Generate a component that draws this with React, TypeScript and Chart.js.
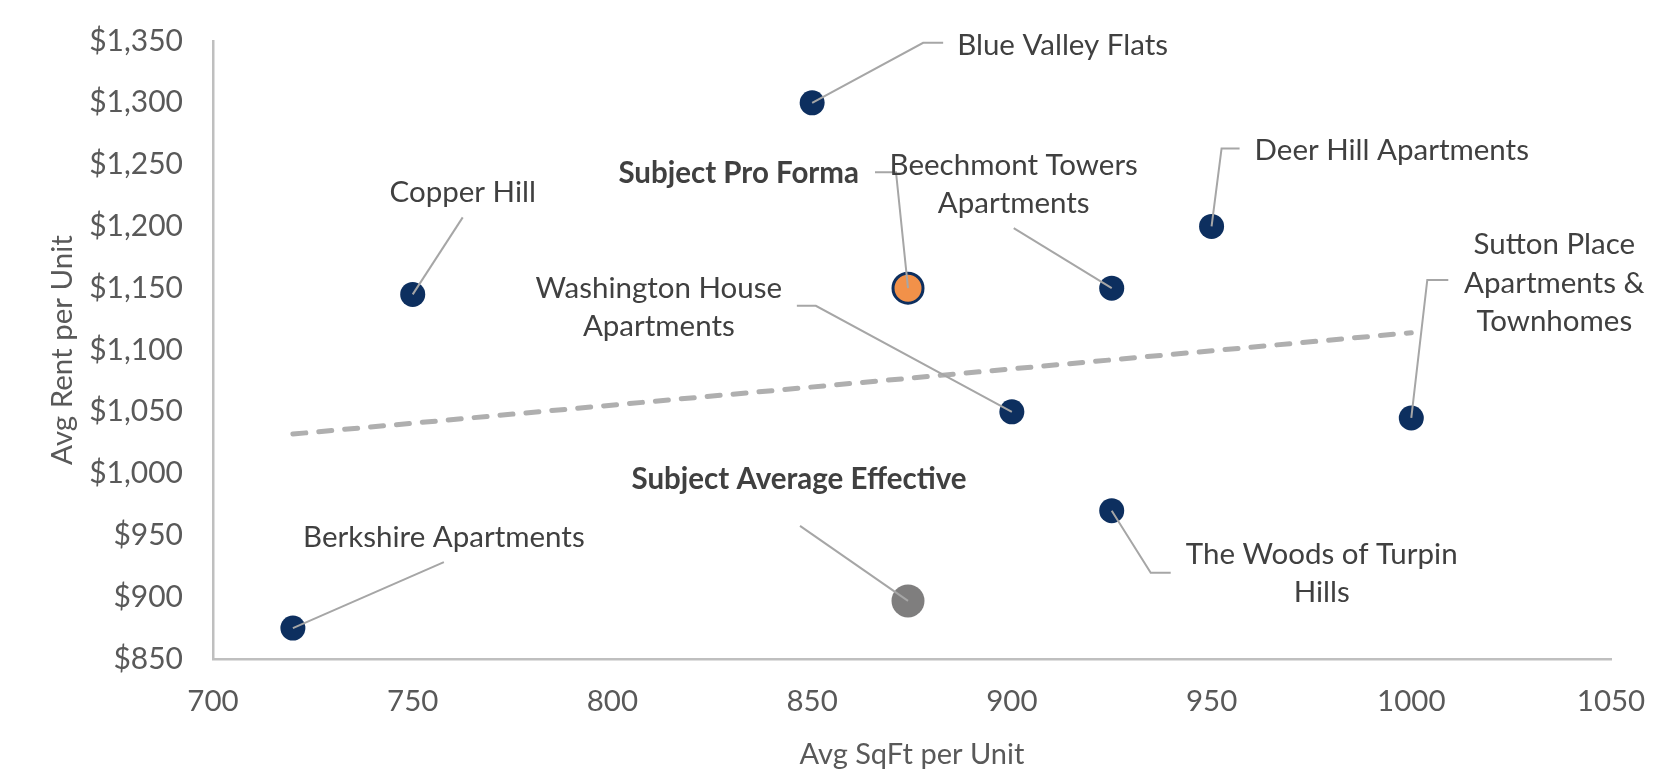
import React, { useEffect, useRef } from "react";
import { Chart, registerables } from "chart.js";

Chart.register(...registerables);

// ---------- data ----------
const compNames = [
  "Berkshire Apartments",
  "Copper Hill",
  "Blue Valley Flats",
  "Washington House Apartments",
  "Beechmont Towers Apartments",
  "The Woods of Turpin Hills",
  "Deer Hill Apartments",
  "Sutton Place Apartments & Townhomes",
];
const compSqft = [720, 750, 850, 900, 925, 925, 950, 1000];
const compRent = [875, 1145, 1300, 1050, 1150, 970, 1200, 1045];

const proFormaSqft = [874];
const proFormaRent = [1150];
const avgEffSqft = [874];
const avgEffRent = [897];

const trendSqft = [720, 1000];
const trendRent = [1032, 1114];

const xTicks = [700, 750, 800, 850, 900, 950, 1000, 1050];
const yTicks = [850, 900, 950, 1000, 1050, 1100, 1150, 1200, 1250, 1300, 1350];

// ---------- styling ----------
const FONT = "Lato";
const LABEL_SIZE = 29.5;
const NAVY = "#0D2F5F";
const ORANGE = "#F29149";
const GREY_PT = "#7F7E7E";
const TREND = "#AFAFAF";
const AXIS = "#BFBFBF";
const LEADER = "#A6A6A6";
const TEXT = "#404040";
const TICK = "#595959";

type Callout = {
  ds: number;
  idx: number;
  lines: string[];
  dx: number;
  dy: number;
  gap: number;
  align: CanvasTextAlign;
  bold?: boolean;
  leader: [number, number][];
};

// label placement, as pixel offsets from the marker
const callouts: Callout[] = [
  { ds: 0, idx: 0, lines: ["Berkshire Apartments"], dx: 151, dy: -91, gap: 0, align: "center", leader: [[151, -66], [0, 0]] },
  { ds: 0, idx: 1, lines: ["Copper Hill"], dx: 50, dy: -102, gap: 0, align: "center", leader: [[50, -77], [0, 0]] },
  { ds: 0, idx: 2, lines: ["Blue Valley Flats"], dx: 145, dy: -57, gap: 0, align: "left", leader: [[131, -60], [111, -60], [0, 0]] },
  { ds: 0, idx: 3, lines: ["Washington House", "Apartments"], dx: -353, dy: -123, gap: 38, align: "center", leader: [[-215, -106], [-196, -106], [0, 0]] },
  { ds: 0, idx: 4, lines: ["Beechmont Towers", "Apartments"], dx: -98, dy: -123, gap: 38, align: "center", leader: [[-98, -60], [0, 0]] },
  { ds: 0, idx: 5, lines: ["The Woods of Turpin", "Hills"], dx: 210, dy: 44, gap: 38, align: "center", leader: [[59, 62], [39, 62], [0, 0]] },
  { ds: 0, idx: 6, lines: ["Deer Hill Apartments"], dx: 43, dy: -76, gap: 0, align: "left", leader: [[28, -78], [10, -78], [0, 0]] },
  { ds: 0, idx: 7, lines: ["Sutton Place", "Apartments &", "Townhomes"], dx: 143, dy: -173, gap: 38.5, align: "center", leader: [[37, -138], [16, -138], [0, 0]] },
  { ds: 1, idx: 0, lines: ["Subject Pro Forma"], dx: -49, dy: -115, gap: 0, align: "right", bold: true, leader: [[-33, -116], [-12, -116], [0, 0]] },
  { ds: 2, idx: 0, lines: ["Subject Average Effective"], dx: -109, dy: -121, gap: 0, align: "center", bold: true, leader: [[-108, -75], [0, 0]] },
];

const calloutPlugin = {
  id: "calloutLabels",
  afterDatasetsDraw(chart: any) {
    const ctx: CanvasRenderingContext2D = chart.ctx;
    ctx.save();
    ctx.strokeStyle = LEADER;
    ctx.lineWidth = 2;
    ctx.lineJoin = "miter";
    for (const c of callouts) {
      const el = chart.getDatasetMeta(c.ds).data[c.idx];
      if (!el) continue;
      ctx.beginPath();
      c.leader.forEach(([dx, dy], i) => {
        if (i === 0) ctx.moveTo(el.x + dx, el.y + dy);
        else ctx.lineTo(el.x + dx, el.y + dy);
      });
      ctx.stroke();
    }
    ctx.fillStyle = TEXT;
    ctx.textBaseline = "middle";
    for (const c of callouts) {
      const el = chart.getDatasetMeta(c.ds).data[c.idx];
      if (!el) continue;
      ctx.font = `${c.bold ? "bold " : ""}${LABEL_SIZE}px ${FONT}`;
      ctx.textAlign = c.align;
      c.lines.forEach((line, i) => {
        ctx.fillText(line, el.x + c.dx, el.y + c.dy + i * c.gap);
      });
    }
    ctx.restore();
  },
};

const clearPad = (s: any) => {
  s.paddingTop = 0;
  s.paddingBottom = 0;
  s.paddingLeft = 0;
  s.paddingRight = 0;
};

export default function App() {
  const ref = useRef<HTMLCanvasElement>(null);

  useEffect(() => {
    const canvas = ref.current;
    if (!canvas) return;
    const chart = new Chart(canvas, {
      type: "scatter",
      data: {
        datasets: [
          {
            label: "Comparables",
            data: compSqft.map((x, i) => ({ x, y: compRent[i], name: compNames[i] })) as any,
            backgroundColor: NAVY,
            borderWidth: 0,
            pointRadius: 12.5,
          },
          {
            label: "Subject Pro Forma",
            data: proFormaSqft.map((x, i) => ({ x, y: proFormaRent[i] })),
            backgroundColor: ORANGE,
            borderColor: NAVY,
            borderWidth: 3,
            pointRadius: 15,
          },
          {
            label: "Subject Average Effective",
            data: avgEffSqft.map((x, i) => ({ x, y: avgEffRent[i] })),
            backgroundColor: GREY_PT,
            borderWidth: 0,
            pointRadius: 16.5,
          },
          {
            label: "Trend",
            data: trendSqft.map((x, i) => ({ x, y: trendRent[i] })),
            showLine: true,
            borderColor: TREND,
            borderWidth: 5,
            borderDash: [13, 13],
            borderCapStyle: "round",
            pointRadius: 0,
            fill: false,
          } as any,
        ],
      },
      options: {
        responsive: false,
        animation: false,
        devicePixelRatio: 1,
        events: [],
        layout: { padding: { top: 41, right: 53, bottom: 0, left: 0 }, autoPadding: false },
        plugins: {
          legend: { display: false },
          tooltip: { enabled: false },
          title: { display: false },
        },
        scales: {
          x: {
            type: "linear",
            min: 700,
            max: 1050,
            afterBuildTicks: (s: any) => {
              s.ticks = xTicks.map((v) => ({ value: v }));
            },
            afterFit: (s: any) => {
              s.height = 121;
              clearPad(s);
            },
            grid: { display: false, drawTicks: false },
            border: { display: true, color: AXIS, width: 2.5 },
            ticks: {
              padding: 25,
              color: TICK,
              font: { family: FONT, size: 29.5 },
              callback: (v: any) => String(v),
            },
            title: {
              display: true,
              text: "Avg SqFt per Unit",
              color: TICK,
              font: { family: FONT, size: 29 },
              padding: { top: 0, bottom: 8 },
            },
          },
          y: {
            type: "linear",
            min: 850,
            max: 1350,
            afterBuildTicks: (s: any) => {
              s.ticks = yTicks.map((v) => ({ value: v }));
            },
            afterFit: (s: any) => {
              s.width = 213;
              clearPad(s);
            },
            grid: { display: false, drawTicks: false },
            border: { display: true, color: AXIS, width: 2.5 },
            ticks: {
              padding: 30,
              color: TICK,
              font: { family: FONT, size: 30 },
              callback: (v: any) => "$" + Number(v).toLocaleString("en-US"),
            },
            title: {
              display: true,
              text: "Avg Rent per Unit",
              color: TICK,
              font: { family: FONT, size: 29.5 },
              padding: { top: 45, bottom: 0 },
            },
          },
        },
      },
      plugins: [calloutPlugin],
    });
    return () => chart.destroy();
  }, []);

  return (
    <div style={{ position: "absolute", left: 0, top: 0, width: 1664, height: 780, background: "#fff" }}>
      <canvas ref={ref} width={1664} height={780} style={{ display: "block" }} />
    </div>
  );
}
